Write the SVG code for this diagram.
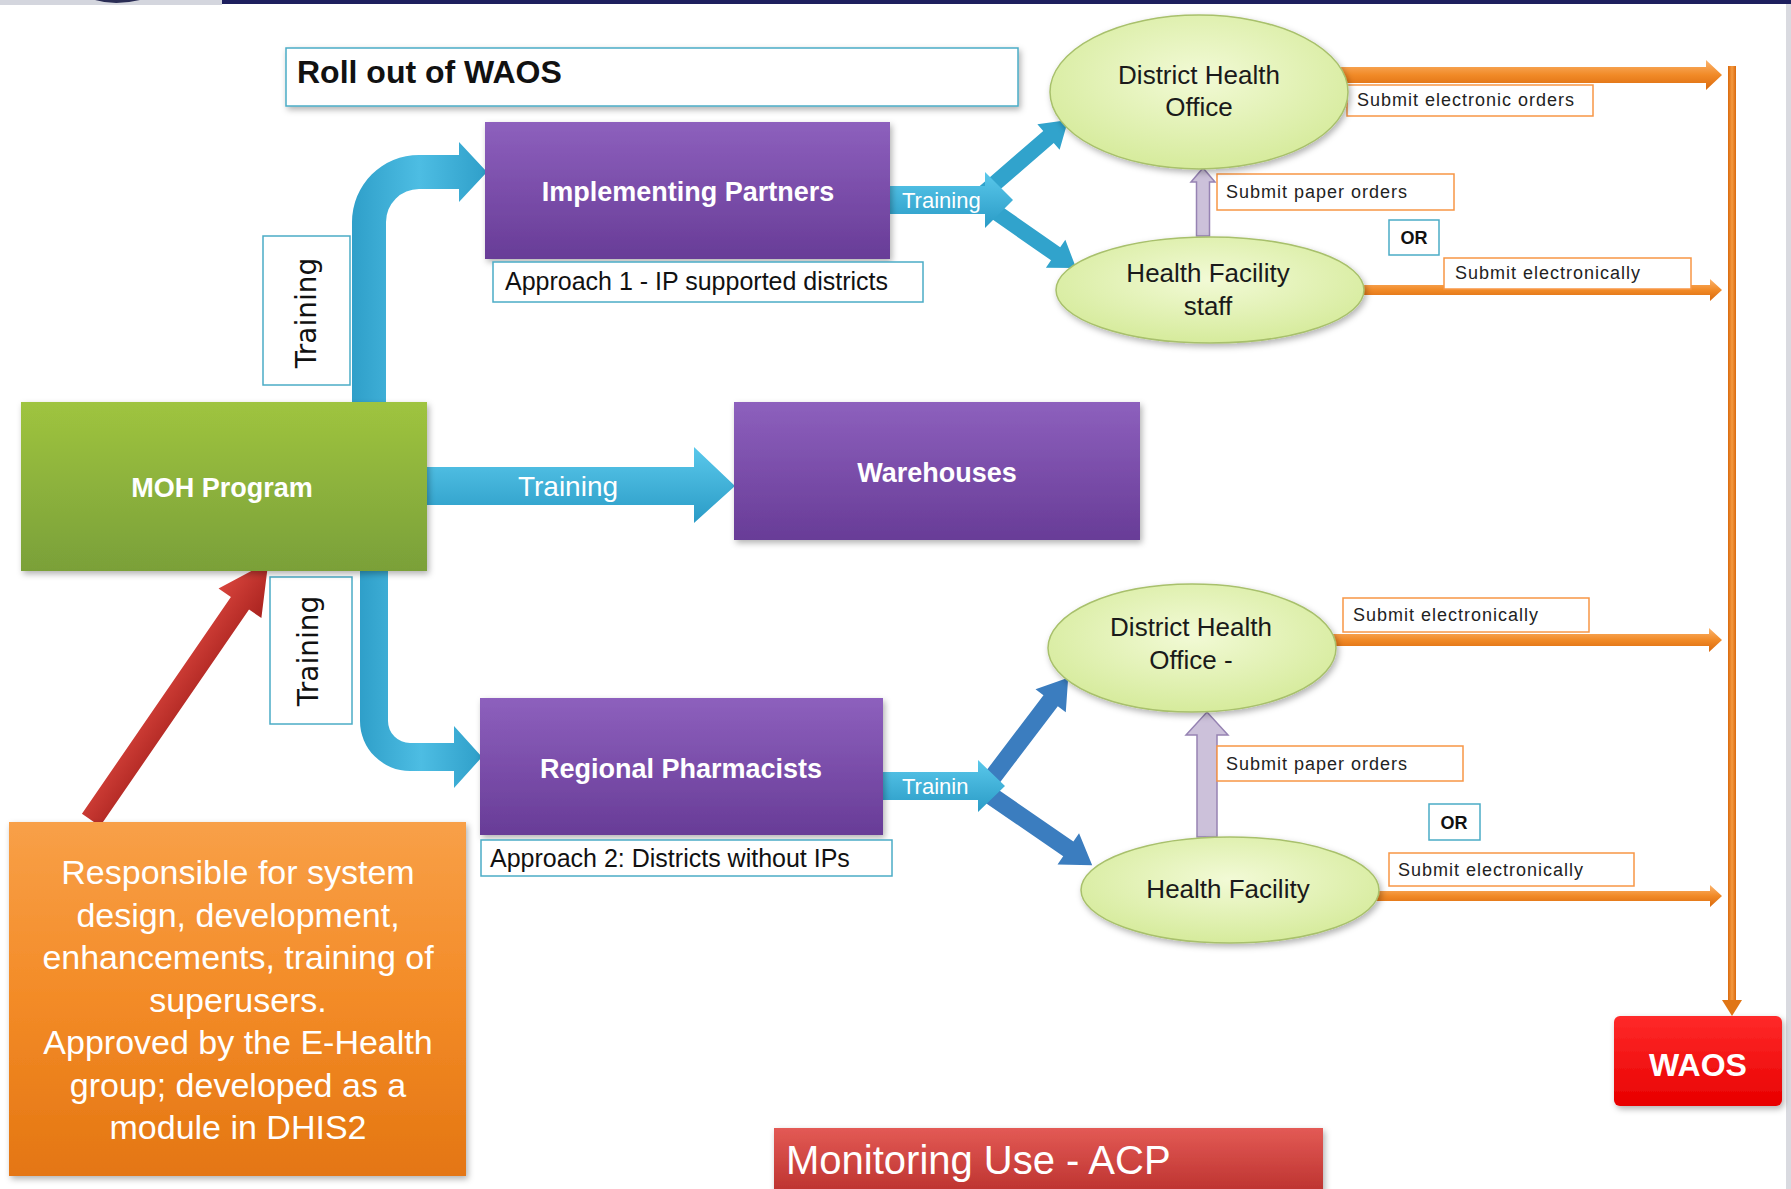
<svg xmlns="http://www.w3.org/2000/svg" width="1791" height="1189" viewBox="0 0 1791 1189">
<defs>
<linearGradient id="gPurple" x1="0" y1="0" x2="0" y2="1"><stop offset="0" stop-color="#8d60bd"/><stop offset="1" stop-color="#683c97"/></linearGradient>
<linearGradient id="gGreen" x1="0" y1="0" x2="0" y2="1"><stop offset="0" stop-color="#9fc43f"/><stop offset="1" stop-color="#7aa039"/></linearGradient>
<linearGradient id="gOrangeBox" x1="0" y1="0" x2="0" y2="1"><stop offset="0" stop-color="#f8a048"/><stop offset="0.5" stop-color="#f38b27"/><stop offset="1" stop-color="#e47612"/></linearGradient>
<linearGradient id="gRed" x1="0" y1="0" x2="0" y2="1"><stop offset="0" stop-color="#ff2a2a"/><stop offset="1" stop-color="#e80000"/></linearGradient>
<linearGradient id="gMon" x1="0" y1="0" x2="0" y2="1"><stop offset="0" stop-color="#e35a55"/><stop offset="1" stop-color="#b92f2c"/></linearGradient>
<radialGradient id="gEll" cx="0.5" cy="0.4" r="0.6"><stop offset="0" stop-color="#f2fad6"/><stop offset="1" stop-color="#d6eb9c"/></radialGradient>
<linearGradient id="gBlueH" x1="0" y1="0" x2="0" y2="1"><stop offset="0" stop-color="#5ac8eb"/><stop offset="1" stop-color="#2a9bc6"/></linearGradient>
<linearGradient id="gBlueV" x1="0" y1="0" x2="1" y2="0"><stop offset="0" stop-color="#2f9fc9"/><stop offset="0.5" stop-color="#4dbde3"/><stop offset="1" stop-color="#2f9fc9"/></linearGradient>
<linearGradient id="gOrangeH" x1="0" y1="0" x2="0" y2="1"><stop offset="0" stop-color="#fbb46e"/><stop offset="0.5" stop-color="#f18a27"/><stop offset="1" stop-color="#d9690d"/></linearGradient>
<linearGradient id="gOrangeV" x1="0" y1="0" x2="1" y2="0"><stop offset="0" stop-color="#d9690d"/><stop offset="0.5" stop-color="#f59a40"/><stop offset="1" stop-color="#d9690d"/></linearGradient>
<linearGradient id="gRedArrow" x1="0" y1="0" x2="0" y2="1"><stop offset="0" stop-color="#d8443c"/><stop offset="1" stop-color="#a9231f"/></linearGradient>
<filter id="sh" x="-10%" y="-10%" width="125%" height="130%"><feDropShadow dx="2" dy="3" stdDeviation="3" flood-color="#000" flood-opacity="0.3"/></filter>
</defs>
<style>
.box{filter:url(#sh);}
.ell{fill:url(#gEll);stroke:#a8c06c;stroke-width:1.5;filter:url(#sh);}
.lblT{fill:#fff;stroke:#4bacc6;stroke-width:1.5;}
.lblO{fill:#fff;stroke:#f79646;stroke-width:1.5;}
.wb{font-family:"Liberation Sans",Arial,sans-serif;font-weight:bold;fill:#fff;text-anchor:middle;}
.et{font-family:"Liberation Sans",Arial,sans-serif;font-size:26px;fill:#1a1a1a;text-anchor:middle;}
.sm{font-family:"Liberation Sans",Arial,sans-serif;font-size:18px;letter-spacing:1px;fill:#222;}
.ap{font-family:"Liberation Sans",Arial,sans-serif;font-size:25px;fill:#111;}
.vt{font-family:"DejaVu Sans",sans-serif;font-size:28px;fill:#111;text-anchor:middle;}
.tw{font-family:"Liberation Sans",Arial,sans-serif;fill:#fff;}
.ot{font-family:"Liberation Sans",Arial,sans-serif;font-size:34px;fill:#fff;text-anchor:middle;}
.blue{fill:#31a3cc;}
.dblue{fill:#3b7dbf;}
.purp{fill:#ccc1da;stroke:#9683b3;stroke-width:1.5;}
</style>
<rect x="0" y="0" width="1791" height="1189" fill="#ffffff"/>
<!-- top band -->
<rect x="0" y="0" width="222" height="5" fill="#d4d6de"/>
<path d="M95 0 Q115 6 140 0 Z" fill="#2a2d55"/>
<rect x="222" y="0" width="1569" height="4" fill="#1e1f5e"/>
<rect x="1786" y="4" width="5" height="1185" fill="#c9cad3" opacity="0.7"/>

<g id="connectors">
  <!-- MOH -> Implementing Partners (curved) -->
  <path d="M352 404 L352 222 A67 67 0 0 1 419 155 L459 155 L459 142 L487 172 L459 202 L459 189 L419 189 A33 33 0 0 0 386 222 L386 404 Z" fill="url(#gBlueV)"/>
  <!-- MOH -> Regional Pharmacists (curved) -->
  <path d="M360 569 L360 721 A50 50 0 0 0 410 771 L454 771 L454 788 L482 757 L454 726 L454 743 L410 743 A22 22 0 0 1 388 721 L388 569 Z" fill="url(#gBlueV)"/>
  <!-- MOH -> Warehouses -->
  <polygon points="423,467 694,467 694,447 735,486 694,523 694,505 423,505" fill="url(#gBlueH)"/>
  <text class="tw" x="568" y="496" font-size="28" text-anchor="middle">Training</text>

  <!-- IP training branch -->
  <g transform="translate(985,192) rotate(-40.9)"><polygon class="blue" points="0,-8 84,-8 84,-17 110,0 84,17 84,8 0,8"/></g>
  <g transform="translate(990,208) rotate(34.9)"><polygon class="blue" points="0,-8 80,-8 80,-17 105,0 80,17 80,8 0,8"/></g>
  <polygon points="888,186 985,186 985,172 1013,200 985,228 985,214 888,214" fill="url(#gBlueH)"/>
  <text class="tw" x="902" y="208" font-size="22">Training</text>

  <!-- RP training branch -->
  <g transform="translate(992,778) rotate(-52.8)"><polygon class="dblue" points="0,-9 97,-9 97,-19 126,0 97,19 97,9 0,9"/></g>
  <g transform="translate(990,795) rotate(34.5)"><polygon class="dblue" points="0,-9 95,-9 95,-19 124,0 95,19 95,9 0,9"/></g>
  <polygon points="881,772 978,772 978,760 1005,786 978,812 978,800 881,800" fill="url(#gBlueH)"/>
  <text class="tw" x="902" y="794" font-size="22">Trainin</text>

  <!-- Orange box -> MOH (red arrow) -->
  <g transform="translate(91,820) rotate(-55.5)"><polygon points="0,-11 263,-11 263,-26 313,0 263,26 263,11 0,11" fill="url(#gRedArrow)"/></g>

  <!-- paper orders (purple up arrows) -->
  <polygon class="purp" points="1196.5,236 1196.5,182 1191,182 1203,168 1215,182 1209.5,182 1209.5,236"/>
  <polygon class="purp" points="1197,837 1197,735 1186,735 1207,712 1228,735 1217,735 1217,837"/>

  <!-- orange arrows to WAOS -->
  <polygon points="1330,67 1706,67 1706,60 1722,75 1706,90 1706,83 1330,83" fill="url(#gOrangeH)"/>
  <polygon points="1355,285 1710,285 1710,279 1722,290 1710,301 1710,295 1355,295" fill="url(#gOrangeH)"/>
  <polygon points="1326,634 1709,634 1709,628 1722,640 1709,652 1709,646 1326,646" fill="url(#gOrangeH)"/>
  <polygon points="1372,891 1710,891 1710,885 1722,896 1710,907 1710,901 1372,901" fill="url(#gOrangeH)"/>
  <rect x="1728" y="66" width="8" height="936" fill="url(#gOrangeV)"/>
  <polygon points="1722,1000 1742,1000 1732,1016" fill="#e07515"/>

  <!-- labels -->
  <rect class="lblT" x="263" y="236" width="87" height="149"/>
  <text class="vt" transform="translate(316,313) rotate(-90)">Training</text>
  <rect class="lblT" x="270" y="577" width="82" height="147"/>
  <text class="vt" transform="translate(318,651) rotate(-90)">Training</text>

  <rect class="lblO" x="1347" y="85" width="246" height="31"/>
  <text class="sm" x="1357" y="106">Submit electronic orders</text>
  <rect class="lblO" x="1217" y="174" width="237" height="36"/>
  <text class="sm" x="1226" y="198">Submit paper orders</text>
  <rect class="lblT" x="1389" y="220" width="50" height="35"/>
  <text x="1414" y="244" font-family="Liberation Sans, Arial, sans-serif" font-size="18" font-weight="bold" fill="#111" text-anchor="middle">OR</text>
  <rect class="lblO" x="1444" y="258" width="247" height="31"/>
  <text class="sm" x="1455" y="279">Submit electronically</text>

  <rect class="lblO" x="1343" y="598" width="246" height="34"/>
  <text class="sm" x="1353" y="621">Submit electronically</text>
  <rect class="lblO" x="1217" y="746" width="246" height="35"/>
  <text class="sm" x="1226" y="770">Submit paper orders</text>
  <rect class="lblT" x="1429" y="804" width="51" height="36"/>
  <text x="1454" y="829" font-family="Liberation Sans, Arial, sans-serif" font-size="18" font-weight="bold" fill="#111" text-anchor="middle">OR</text>
  <rect class="lblO" x="1389" y="853" width="245" height="33"/>
  <text class="sm" x="1398" y="876">Submit electronically</text>
</g>

<g id="title">
  <rect x="286" y="48" width="732" height="58" fill="#fff" stroke="#4bacc6" stroke-width="1.5" filter="url(#sh)"/>
  <text x="297" y="83" font-family="Liberation Sans, Arial, sans-serif" font-size="32" font-weight="bold" fill="#111">Roll out of WAOS</text>
</g>

<g id="moh">
  <rect class="box" x="21" y="402" width="406" height="169" fill="url(#gGreen)"/>
  <text class="wb" x="222" y="497" font-size="27">MOH Program</text>
</g>

<g id="implementing-partners">
  <rect class="box" x="485" y="122" width="405" height="137" fill="url(#gPurple)"/>
  <text class="wb" x="688" y="201" font-size="27">Implementing Partners</text>
  <rect class="lblT" x="493" y="262" width="430" height="40"/>
  <text class="ap" x="505" y="290">Approach 1 - IP supported districts</text>
</g>

<g id="warehouses">
  <rect class="box" x="734" y="402" width="406" height="138" fill="url(#gPurple)"/>
  <text class="wb" x="937" y="482" font-size="27">Warehouses</text>
</g>

<g id="regional-pharmacists">
  <rect class="box" x="480" y="698" width="403" height="137" fill="url(#gPurple)"/>
  <text class="wb" x="681" y="778" font-size="27">Regional Pharmacists</text>
  <rect class="lblT" x="481" y="840" width="411" height="36"/>
  <text class="ap" x="490" y="867">Approach 2: Districts without IPs</text>
</g>

<g id="dho-top">
  <ellipse class="ell" cx="1199" cy="92" rx="149" ry="77"/>
  <text class="et" x="1199" y="84">District Health</text>
  <text class="et" x="1199" y="116">Office</text>
</g>

<g id="hf-staff">
  <ellipse class="ell" cx="1210" cy="290" rx="154" ry="53"/>
  <text class="et" x="1208" y="282">Health Facility</text>
  <text class="et" x="1208" y="315">staff</text>
</g>

<g id="dho-bottom">
  <ellipse class="ell" cx="1192" cy="648" rx="144" ry="64"/>
  <text class="et" x="1191" y="636">District Health</text>
  <text class="et" x="1191" y="669">Office -</text>
</g>

<g id="hf-bottom">
  <ellipse class="ell" cx="1230" cy="890" rx="149" ry="53"/>
  <text class="et" x="1228" y="898">Health Facility</text>
</g>

<g id="responsible">
  <rect class="box" x="9" y="822" width="457" height="354" fill="url(#gOrangeBox)"/>
  <text class="ot" x="238" y="884">Responsible for system</text>
  <text class="ot" x="238" y="927">design, development,</text>
  <text class="ot" x="238" y="969">enhancements, training of</text>
  <text class="ot" x="238" y="1012">superusers.</text>
  <text class="ot" x="238" y="1054">Approved by the E-Health</text>
  <text class="ot" x="238" y="1097">group; developed as a</text>
  <text class="ot" x="238" y="1139">module in DHIS2</text>
</g>

<g id="waos">
  <rect class="box" x="1614" y="1016" width="168" height="90" rx="6" fill="url(#gRed)"/>
  <text class="wb" x="1698" y="1076" font-size="32">WAOS</text>
</g>

<g id="monitoring">
  <rect class="box" x="774" y="1128" width="549" height="70" fill="url(#gMon)"/>
  <text x="786" y="1174" font-family="Liberation Sans, Arial, sans-serif" font-size="40" fill="#fff">Monitoring Use - ACP</text>
</g>
</svg>
